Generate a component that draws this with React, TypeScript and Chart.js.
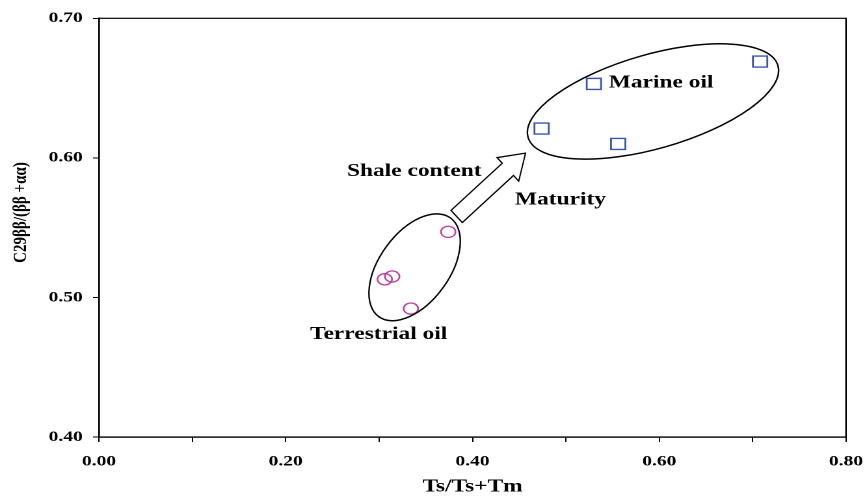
import React, { useEffect, useRef } from 'react';
import { Chart, registerables } from 'chart.js';

Chart.register(...registerables);

// ---- data ----
const marineX = [0.474, 0.53, 0.556, 0.708];
const marineY = [0.621, 0.653, 0.61, 0.669];
const terrestrialX = [0.374, 0.306, 0.314, 0.334];
const terrestrialY = [0.547, 0.513, 0.515, 0.492];

const xMin = 0;
const xMax = 0.8;
const xStep = 0.1;
const yMin = 0.4;
const yMax = 0.7;
const yStep = 0.1;

const xTitle = 'Ts/Ts+Tm';
const yTitle = 'C29ββ/(ββ +αα)';

const noteTexts = ['Marine oil', 'Terrestrial oil', 'Shale content', 'Maturity'];
const noteX = [0.546, 0.226, 0.2656, 0.4455];
const noteY = [0.6538, 0.4734, 0.5902, 0.57];

// ellipse centres in data units
const ellipseCX = [0.5933, 0.338];
const ellipseCY = [0.6404, 0.5216];
// arrow (tail centre -> tip) in data units
const arrowFrom = [0.383, 0.558];
const arrowTo = [0.4568, 0.6034];

// ---- style ----
const W = 665;
const H = 499;
const S = 865 / W; // horizontal stretch of the picture
const FONT = "'Liberation Serif', 'Times New Roman', serif";
const ellipseRX = [130, 61];
const ellipseRY = [47, 35];
const ellipseRot = [-16, -54];

const annotate = {
  id: 'annotate',
  afterDatasetsDraw(chart: any) {
    const { ctx, chartArea: a, scales } = chart;
    const xs = scales.x;
    const ys = scales.y;
    ctx.save();
    ctx.strokeStyle = '#000';
    ctx.lineWidth = 1.2;
    ctx.strokeRect(a.left, a.top, a.right - a.left, a.bottom - a.top);
    ctx.restore();

    ctx.save();
    ctx.scale(1 / S, 1);
    ctx.strokeStyle = '#000';
    ctx.lineWidth = 1.5;
    for (let i = 0; i < ellipseCX.length; i++) {
      ctx.beginPath();
      ctx.ellipse(
        xs.getPixelForValue(ellipseCX[i]) * S,
        ys.getPixelForValue(ellipseCY[i]),
        ellipseRX[i],
        ellipseRY[i],
        (ellipseRot[i] * Math.PI) / 180,
        0,
        Math.PI * 2
      );
      ctx.stroke();
    }
    // block arrow
    const tx = xs.getPixelForValue(arrowFrom[0]) * S;
    const ty = ys.getPixelForValue(arrowFrom[1]);
    const px = xs.getPixelForValue(arrowTo[0]) * S;
    const py = ys.getPixelForValue(arrowTo[1]);
    const L = Math.hypot(px - tx, py - ty);
    const ux = (px - tx) / L;
    const uy = (py - ty) / L;
    const nx = -uy;
    const ny = ux;
    const w = 8.3;
    const hw = 16;
    const hl = 24;
    const bx = tx + ux * (L - hl);
    const by = ty + uy * (L - hl);
    ctx.beginPath();
    ctx.moveTo(tx + nx * w, ty + ny * w);
    ctx.lineTo(bx + nx * w, by + ny * w);
    ctx.lineTo(bx + nx * hw, by + ny * hw);
    ctx.lineTo(px, py);
    ctx.lineTo(bx - nx * hw, by - ny * hw);
    ctx.lineTo(bx - nx * w, by - ny * w);
    ctx.lineTo(tx - nx * w, ty - ny * w);
    ctx.closePath();
    ctx.fillStyle = '#fff';
    ctx.fill();
    ctx.lineWidth = 1.3;
    ctx.stroke();
    ctx.restore();

    ctx.save();
    ctx.fillStyle = '#000';
    ctx.font = `bold 18px ${FONT}`;
    ctx.textAlign = 'left';
    ctx.textBaseline = 'middle';
    for (let i = 0; i < noteTexts.length; i++) {
      ctx.fillText(noteTexts[i], xs.getPixelForValue(noteX[i]), ys.getPixelForValue(noteY[i]));
    }
    ctx.restore();

    // y axis title (rotated)
    ctx.save();
    ctx.translate(16.2, 212.5);
    ctx.rotate(-Math.PI / 2);
    ctx.fillStyle = '#000';
    ctx.font = `bold 15px ${FONT}`;
    ctx.textAlign = 'center';
    ctx.textBaseline = 'middle';
    ctx.fillText(yTitle, 0, 0);
    ctx.restore();
  },
};

export default function App() {
  const ref = useRef<HTMLCanvasElement | null>(null);
  useEffect(() => {
    if (!ref.current) return;
    const chart = new Chart(ref.current, {
      type: 'scatter',
      data: {
        datasets: [
          {
            label: 'Marine oil',
            data: marineX.map((x, i) => ({ x, y: marineY[i] })),
            pointStyle: 'rect',
            pointRadius: 7.8,
            pointBorderColor: '#3A56AA',
            pointBackgroundColor: 'rgba(0,0,0,0)',
            pointBorderWidth: 1.4,
          },
          {
            label: 'Terrestrial oil',
            data: terrestrialX.map((x, i) => ({ x, y: terrestrialY[i] })),
            pointStyle: 'circle',
            pointRadius: 5.6,
            pointBorderColor: '#BF3F9F',
            pointBackgroundColor: 'rgba(0,0,0,0)',
            pointBorderWidth: 1.3,
          },
        ],
      },
      options: {
        animation: false,
        responsive: false,
        devicePixelRatio: 2,
        layout: { padding: { left: 0, top: 18.3, right: 14.6, bottom: 0 } },
        plugins: { legend: { display: false }, tooltip: { enabled: false } },
        scales: {
          x: {
            type: 'linear',
            position: 'bottom',
            min: xMin,
            max: xMax,
            ticks: {
              stepSize: xStep,
              autoSkip: false,
              maxRotation: 0,
              padding: 10.7,
              color: '#000',
              font: { family: FONT, size: 15, weight: 'bold' },
              callback: (v: any) => (Math.round(Number(v) * 10) % 2 === 0 ? Number(v).toFixed(2) : ''),
            },
            grid: { drawOnChartArea: false, drawTicks: true, tickLength: 5, color: '#000', lineWidth: 1 },
            border: { display: true, color: '#000', width: 1.2 },
            title: {
              display: true,
              text: xTitle,
              color: '#000',
              font: { family: FONT, size: 18, weight: 'bold' },
              padding: { top: 0, bottom: 1.5 },
            },
            afterFit: (s: any) => {
              s.height = 62;
              s.paddingLeft = 0;
              s.paddingRight = 0;
            },
          },
          y: {
            type: 'linear',
            min: yMin,
            max: yMax,
            ticks: {
              stepSize: yStep,
              padding: 7.9,
              color: '#000',
              font: { family: FONT, size: 15, weight: 'bold' },
              callback: (v: any) => Number(v).toFixed(2),
            },
            grid: { drawOnChartArea: false, drawTicks: true, tickLength: 4.6, color: '#000', lineWidth: 1 },
            border: { display: true, color: '#000', width: 1.2 },
            title: { display: false },
            afterFit: (s: any) => {
              s.width = 76.1;
              s.paddingTop = 0;
              s.paddingBottom = 0;
            },
          },
        },
      },
      plugins: [annotate],
    } as any);
    return () => chart.destroy();
  }, []);

  return (
    <div style={{ position: 'fixed', left: 0, top: 0, width: 865, height: 499, overflow: 'hidden', background: '#fff' }}>
      <canvas
        ref={ref}
        width={W}
        height={H}
        style={{ width: W + 'px', height: H + 'px', display: 'block', transform: `scaleX(${S})`, transformOrigin: '0 0' }}
      />
    </div>
  );
}
